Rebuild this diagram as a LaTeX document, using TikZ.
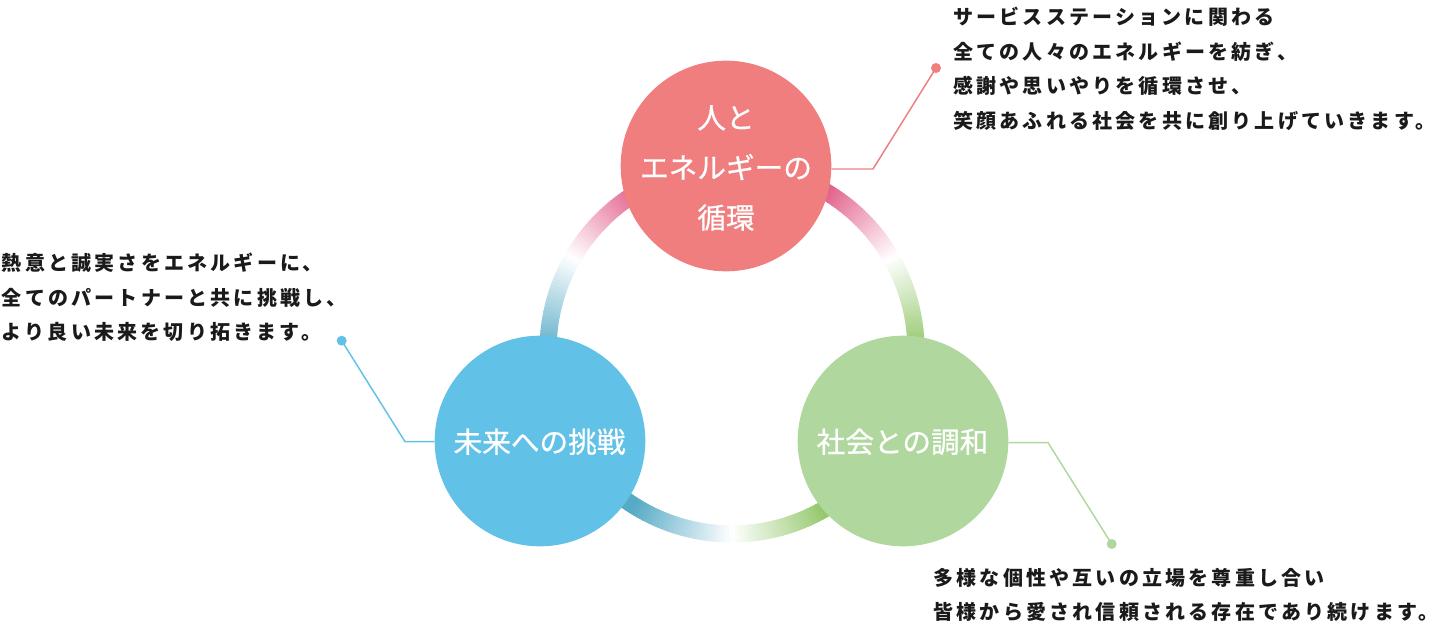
\documentclass[tikz,border=0pt]{standalone}
\usepackage{fontspec}
\newfontfamily\jp[FakeBold=0.7]{Noto Sans CJK JP}
\newfontfamily\jpd[LetterSpace=16]{Noto Sans CJK JP}
\definecolor{cpink}{HTML}{F07E7E}
\definecolor{cblue}{HTML}{62C1E7}
\definecolor{cgreen}{HTML}{B0D79E}
\definecolor{rpink}{HTML}{E05280}
\definecolor{rblue}{HTML}{56AAC6}
\definecolor{rgreen}{HTML}{8CC462}
\definecolor{txt}{HTML}{1A1A1A}
\tikzset{
  bigcircle/.style={circle, minimum size=158pt, inner sep=0pt, draw=none},
  clabel/.style={font=\jp\fontsize{21.5}{26}\selectfont, text=white, anchor=base, inner sep=0pt},
  desc/.style={font=\jpd\bfseries\fontsize{15}{18}\selectfont, text=txt, anchor=base west, inner sep=0pt},
  dotnode/.style={circle, minimum size=7.5pt, inner sep=0pt},
  conn/.style={line width=1.1pt}
}
\begin{document}
\begin{tikzpicture}[x=0.75pt,y=0.75pt]
\useasboundingbox (0,0) rectangle (1441,628);
% gradient ring
\coordinate (ring) at (732,278);
\foreach \c/\col in {90/rpink,210/rblue,330/rgreen}{
  \foreach \o in {-60,-59,...,59}{
    \pgfmathsetmacro\f{100*min(1,max(0,(60-abs(\o+0.5))/32))}
    \draw[line width=12.75pt,color=\col!\f!white] (ring) ++(\c+\o:184) arc[start angle=\c+\o,delta angle=1.6,radius=184];
  }
}
% circles
\node[bigcircle, fill=cpink] (pink) at (726,462) {};
\node[bigcircle, fill=cblue] (blue) at (540,187) {};
\node[bigcircle, fill=cgreen] (green) at (903,187) {};
% circle labels
\node[clabel] (p1) at (726,499.6) {人と};
\node[clabel] (p2) at (726,449.6) {エネルギーの};
\node[clabel] (p3) at (726,399.6) {循環};
\node[clabel] (b1) at (539.5,175.4) {未来への挑戦};
\node[clabel] (g1) at (902.5,175.4) {社会との調和};
% connectors
\coordinate (pk) at (873,459);
\node[dotnode, fill=cpink] (pdot) at (936,560) {};
\draw[conn, cpink] (pink.east |- pk) -- (pk) -- (pdot.center);
\coordinate (bk) at (405,186.3);
\node[dotnode, fill=cblue] (bdot) at (341.7,287.3) {};
\draw[conn, cblue] (bdot.center) -- (bk) -- (blue.west |- bk);
\coordinate (gk) at (1048,185.3);
\node[dotnode, fill=cgreen] (gdot) at (1111.7,84) {};
\draw[conn, cgreen] (green.east |- gk) -- (gk) -- (gdot.center);
% descriptions
\node[desc] (t1) at (953,603.4) {サービスステーションに関わる};
\node[desc] (t2) at (953,568.7) {全ての人々のエネルギーを紡ぎ、};
\node[desc] (t3) at (953,534) {感謝や思いやりを循環させ、};
\node[desc] (t4) at (953,499.3) {笑顔あふれる社会を共に創り上げていきます。};
\node[desc] (l1) at (1.7,357.4) {熱意と誠実さをエネルギーに、};
\node[desc] (l2) at (1.7,322.7) {全てのパートナーと共に挑戦し、};
\node[desc] (l3) at (1.7,288) {より良い未来を切り拓きます。};
\node[desc] (r1) at (933.3,42.9) {多様な個性や互いの立場を尊重し合い};
\node[desc] (r2) at (933.3,8.9) {皆様から愛され信頼される存在であり続けます。};
\end{tikzpicture}
\end{document}
